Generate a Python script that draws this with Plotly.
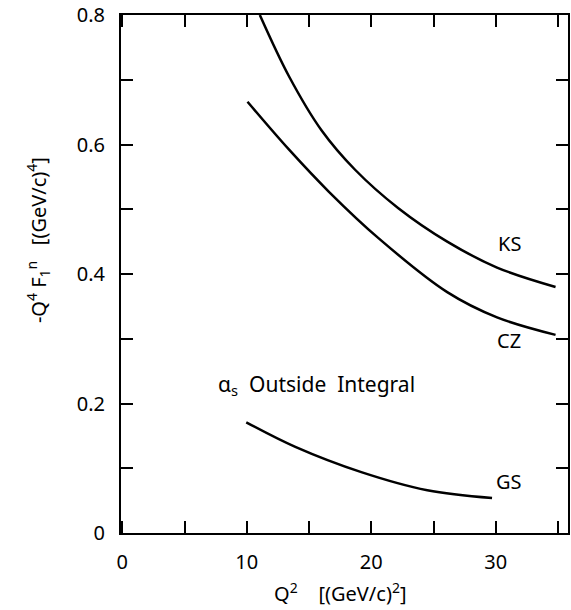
import plotly.graph_objects as go

# Data
ks_q2 = [11.05, 13.4, 16.0, 18.7, 22.15, 26.1, 30.1, 34.8]
ks_f = [0.800, 0.705, 0.622, 0.561, 0.502, 0.450, 0.410, 0.380]

cz_q2 = [10.06, 13.4, 16.6, 20.6, 26.1, 30.1, 34.8]
cz_f = [0.666, 0.592, 0.527, 0.455, 0.372, 0.333, 0.306]

gs_q2 = [9.96, 13.9, 19.2, 24.5, 29.7]
gs_f = [0.171, 0.133, 0.094, 0.066, 0.054]

x_tickvals = [0, 5, 10, 15, 20, 25, 30, 35]
x_ticktext = ["0", "", "10", "", "20", "", "30", ""]
y_tickvals = [0, 0.1, 0.2, 0.3, 0.4, 0.5, 0.6, 0.7, 0.8]
y_ticktext = ["0", "", "0.2", "", "0.4", "", "0.6", "", "0.8"]

curve_labels = ["KS", "CZ", "GS"]
label_q2 = [31.1, 31.1, 31.1]
label_f = [0.447, 0.298, 0.079]

FONT = "Noto Sans"
FS = 20

fig = go.Figure()
for xs, ys in [(ks_q2, ks_f), (cz_q2, cz_f), (gs_q2, gs_f)]:
    fig.add_trace(go.Scatter(x=xs, y=ys, mode="lines",
                             line=dict(color="black", width=2.5, shape="spline", smoothing=1.0),
                             showlegend=False, hoverinfo="skip"))

for t, xq, yf in zip(curve_labels, label_q2, label_f):
    fig.add_annotation(x=xq, y=yf, text=t, showarrow=False, xref="x", yref="y",
                       font=dict(family=FONT, size=FS, color="black"))

fig.add_annotation(x=15.6, y=0.229, text="α<sub>s</sub>  Outside  Integral", showarrow=False,
                   xref="x", yref="y", font=dict(family=FONT, size=21, color="black"))

fig.add_annotation(x=-0.185, y=0.566, xref="paper", yref="paper", textangle=-90, showarrow=False,
                   xanchor="center", yanchor="middle",
                   text="-Q<sup>4</sup> F<sub>1</sub><sup>n</sup>   [(GeV/c)<sup>4</sup>]",
                   font=dict(family=FONT, size=FS, color="black"))
fig.add_annotation(x=0.49, y=-0.114, xref="paper", yref="paper", showarrow=False,
                   xanchor="center", yanchor="middle",
                   text="Q<sup>2</sup>    [(GeV/c)<sup>2</sup>]",
                   font=dict(family=FONT, size=FS, color="black"))

axis_common = dict(showgrid=False, zeroline=False, showline=True, linecolor="black", linewidth=2,
                   ticks="inside", ticklen=12, tickwidth=1.5, tickcolor="black", mirror="ticks",
                   tickfont=dict(family=FONT, size=FS, color="black"), fixedrange=True)

fig.update_xaxes(range=[-0.1, 35.8], tickmode="array", tickvals=x_tickvals, ticktext=x_ticktext,
                 ticklabelstandoff=10, **axis_common)
fig.update_yaxes(range=[0, 0.8], tickmode="array", tickvals=y_tickvals, ticktext=y_ticktext,
                 ticklabelstandoff=10, **axis_common)

fig.update_layout(width=571, height=610, margin=dict(l=121, r=1, t=15, b=77),
                  plot_bgcolor="white", paper_bgcolor="white")

fig.write_html("out.html")
